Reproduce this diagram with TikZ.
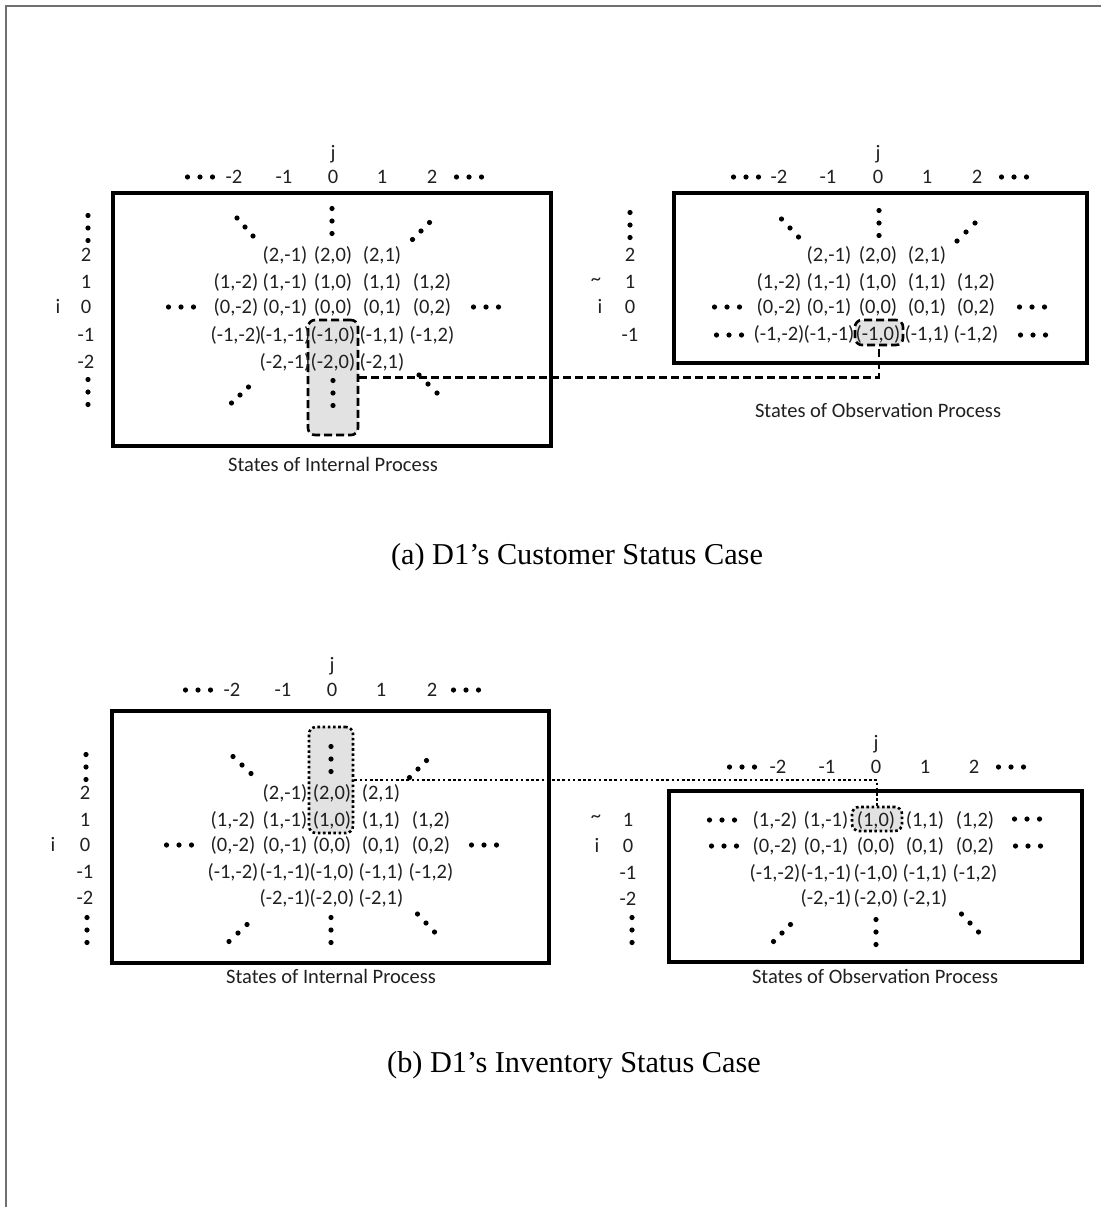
\documentclass[tikz,border=0pt]{standalone}
\usepackage{fontspec}
\setmainfont{Carlito}
\newfontfamily\capfont{Liberation Serif}
\definecolor{framegray}{HTML}{707070}
\definecolor{hlgray}{HTML}{E2E2E2}
\definecolor{txt}{HTML}{202020}
\newcommand\myhdots[2]{\foreach \k in {-1,0,1}{\fill (#1+\k*12.5,#2) circle (2.6pt);}}
\newcommand\myvdots[2]{\foreach \k in {-1,0,1}{\fill (#1,#2+\k*12.5) circle (2.6pt);}}
\newcommand\mydiag[4]{\foreach \k in {-1,0,1}{\fill (#1+\k*#3,#2+\k*#4) circle (2.6pt);}}
\begin{document}
\begin{tikzpicture}[x=1pt,y=-1pt,
  lblnat/.style={inner sep=0pt, text=txt, font=\fontsize{20.5}{24}\selectfont},
  lbl/.style={lblnat, text height=13.3pt, text depth=0pt},
  frame/.style={line width=4.5pt},
  hlbox/.style={draw, fill=hlgray, rounded corners=7pt, inner sep=0pt, line width=2.6pt},
  dashbox/.style={hlbox, dash pattern=on 8pt off 4pt},
  dotbox/.style={hlbox, dash pattern=on 2.6pt off 2.6pt},
  dashconn/.style={line width=2.6pt, dash pattern=on 8pt off 4pt},
  dotconn/.style={line width=2.6pt, dash pattern=on 2.6pt off 2.6pt},
  captxt/.style={inner sep=0pt, font=\capfont\fontsize{30.3}{34}\selectfont}]
\useasboundingbox (0,0) rectangle (1101,1207);
\fill[white] (0,0) rectangle (1101,1207);
\draw[framegray, line width=2pt] (6,1207) -- (6,6) -- (1101,6);

% ---------------- (a) ----------------
\draw[frame] (113,193) rectangle (551,446);
\draw[frame] (674,193) rectangle (1087,363);
\node[dashbox, minimum width=50pt, minimum height=115pt] (selA) at (333,377.5) {};
\node[dashbox, minimum width=48pt, minimum height=25pt] (obsA) at (879,332.5) {};

% internal cells
\foreach \i/\y/\cols in {2/255/{-1/285,0/333,1/382},
                         1/282/{-2/236,-1/285,0/333,1/382,2/432},
                         0/307/{-2/236,-1/285,0/333,1/382,2/432},
                         -1/335/{-2/236,-1/285,0/333,1/382,2/432},
                         -2/362/{-1/285,0/333,1/382}}{
  \foreach \j/\x in \cols { \node[lbl] (AI\i/\j) at (\x,\y) {(\i,\j)}; }
}
% observation cells
\foreach \i/\y/\cols in {2/255/{-1/829,0/878,1/927},
                         1/282/{-2/779,-1/829,0/878,1/927,2/976},
                         0/307/{-2/779,-1/829,0/878,1/927,2/976},
                         -1/334/{-2/779,-1/829,0/878,1/927,2/976}}{
  \foreach \j/\x in \cols { \node[lbl] (AO\i/\j) at (\x,\y) {(\i,\j)}; }
}
% headers
\node[lbl] (AIj) at (333,153) {j};
\foreach \j/\x in {-2/234,-1/284,0/333,1/382,2/432}{ \node[lbl] (AIc\j) at (\x,177) {\j}; }
\node[lbl] (AOj) at (878,153) {j};
\foreach \j/\x in {-2/779,-1/828,0/878,1/927,2/977}{ \node[lbl] (AOc\j) at (\x,177) {\j}; }
\foreach \i/\y in {2/255,1/282,0/307,-1/335,-2/362}{ \node[lbl] (AIr\i) at (86,\y) {\i}; }
\node[lbl] (AIi) at (58,307) {i};
\foreach \i/\y in {2/255,1/282,0/307,-1/335}{ \node[lbl] (AOr\i) at (630,\y) {\i}; }
\node[lblnat] (AOt) at (596,282) {\textasciitilde};
\node[lbl] (AOi) at (600,307) {i};
% dots (a) internal
\myhdots{200}{177} \myhdots{469}{177}
\myvdots{88}{228} \myvdots{88}{392}
\mydiag{245}{227}{8}{9} \myvdots{332}{221} \mydiag{421}{231}{8.5}{-8.5}
\myhdots{181}{307} \myhdots{486}{307}
\mydiag{240}{395}{8.5}{-8} \myvdots{333}{393} \mydiag{428}{384}{9}{9}
% dots (a) observation
\myhdots{746}{177} \myhdots{1014}{177}
\myvdots{630}{225}
\mydiag{790}{228}{8.5}{9} \myvdots{879}{223} \mydiag{966}{232}{9}{-9}
\myhdots{727}{307} \myhdots{729}{335}
\myhdots{1032}{307} \myhdots{1033}{335}
% connector
\draw[dashconn] (selA.east) -| (obsA.south);
\node[lbl] (AIcap) at (333,465) {States of Internal Process};
\node[lbl] (AOcap) at (878,411) {States of Observation Process};
\node[captxt] (capA) at (577,557) {(a) D1’s Customer Status Case};

% ---------------- (b) ----------------
\draw[frame] (112,711) rectangle (549,963);
\draw[frame] (669,791) rectangle (1082,962);
\node[dotbox, minimum width=44pt, minimum height=106pt] (selB) at (331,780) {};
\node[dotbox, minimum width=50pt, minimum height=24pt] (obsB) at (877,819) {};

\foreach \i/\y/\cols in {2/793/{-1/285,0/332,1/381},
                         1/820/{-2/233,-1/285,0/332,1/381,2/431},
                         0/845/{-2/233,-1/285,0/332,1/381,2/431},
                         -1/872/{-2/233,-1/285,0/332,1/381,2/431},
                         -2/898/{-1/285,0/332,1/381}}{
  \foreach \j/\x in \cols { \node[lbl] (BI\i/\j) at (\x,\y) {(\i,\j)}; }
}
\foreach \i/\y/\cols in {1/820/{-2/775,-1/826,0/876,1/925,2/975},
                         0/846/{-2/775,-1/826,0/876,1/925,2/975},
                         -1/873/{-2/775,-1/826,0/876,1/925,2/975},
                         -2/898/{-1/826,0/876,1/925}}{
  \foreach \j/\x in \cols { \node[lbl] (BO\i/\j) at (\x,\y) {(\i,\j)}; }
}
\node[lbl] (BIj) at (332,665) {j};
\foreach \j/\x in {-2/232,-1/283,0/332,1/381,2/432}{ \node[lbl] (BIc\j) at (\x,690) {\j}; }
\node[lbl] (BOj) at (876,743) {j};
\foreach \j/\x in {-2/778,-1/827,0/876,1/925,2/974}{ \node[lbl] (BOc\j) at (\x,767) {\j}; }
\foreach \i/\y in {2/793,1/820,0/845,-1/872,-2/898}{ \node[lbl] (BIr\i) at (85,\y) {\i}; }
\node[lbl] (BIi) at (53,845) {i};
\foreach \i/\y in {1/820,0/846,-1/873,-2/899}{ \node[lbl] (BOr\i) at (628,\y) {\i}; }
\node[lblnat] (BOt) at (596,819) {\textasciitilde};
\node[lbl] (BOi) at (597,846) {i};
% dots (b) internal
\myhdots{198}{690} \myhdots{466}{690}
\myvdots{86}{767} \myvdots{87}{930}
\mydiag{242}{765}{9}{8.5} \myvdots{331}{759} \mydiag{418}{769}{8.5}{-8.5}
\myhdots{179}{845} \myhdots{484}{845}
\mydiag{238}{933}{9}{-8.5} \myvdots{331}{930} \mydiag{426}{923}{8.5}{9}
% dots (b) observation
\myhdots{742}{767} \myhdots{1011}{767}
\myvdots{632}{930}
\myhdots{722}{820} \myhdots{724}{846}
\myhdots{1027}{819} \myhdots{1028}{846}
\mydiag{782}{933}{8.5}{-8.5} \myvdots{876}{932} \mydiag{970}{923}{8.5}{9}
% connector
\draw[dotconn] (selB.east) -| (obsB.north);
\node[lbl] (BIcap) at (331,977) {States of Internal Process};
\node[lbl] (BOcap) at (875,977) {States of Observation Process};
\node[captxt] (capB) at (574,1065) {(b) D1’s Inventory Status Case};
\end{tikzpicture}
\end{document}
